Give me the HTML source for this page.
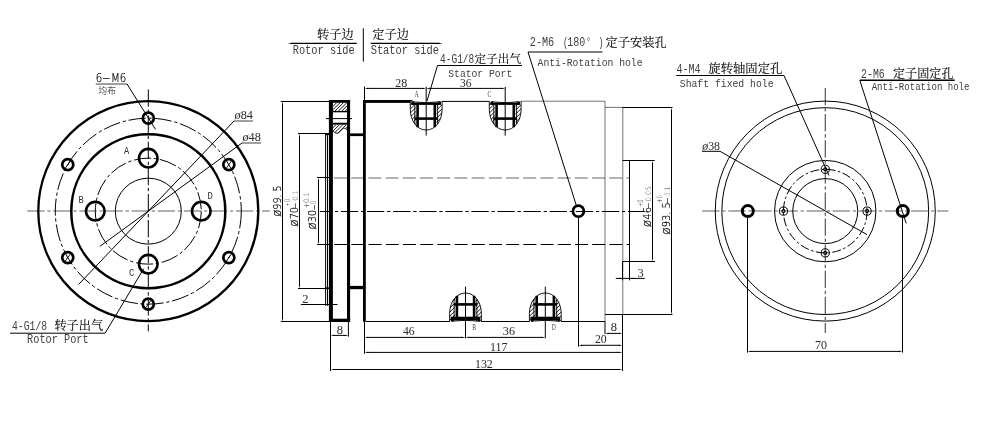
<!DOCTYPE html>
<html><head><meta charset="utf-8"><title>Rotary union drawing</title>
<style>
html,body{margin:0;padding:0;background:#fff;}
svg{display:block}
.t{stroke:#000;stroke-width:1;fill:none}
.g{stroke:#000;stroke-width:1;fill:none;stroke-opacity:.55}
.k{stroke:#000;stroke-width:2.3;fill:none}
.f{fill:#000;stroke:none}
.cl{stroke:#000;stroke-width:1;fill:none;stroke-dasharray:17.3 2.8 3.3 2.7}
.hd{stroke:#000;stroke-width:1;fill:none;stroke-dasharray:13 4.2}
.h{stroke:#000;stroke-width:.9;fill:none}
text{fill:#2a2a2a}
.s{font-family:"Liberation Serif","Noto Serif CJK SC",serif;font-size:12.5px}
.c{font-family:"Liberation Serif","Noto Serif CJK SC",serif;font-size:12px;fill:#000;stroke:#000;stroke-width:.08px}
.m{font-family:"Liberation Mono","Noto Serif CJK SC",monospace;font-size:12.9px;fill:#404040}
.a{font-family:"DejaVu Sans Light","DejaVu Sans","Liberation Sans",sans-serif;font-weight:200;font-size:11.7px;fill:#000;stroke:#000;stroke-width:.22px}
.lb{font-family:"Liberation Mono",monospace;font-size:11.4px;fill:#333}
.ls{font-family:"Liberation Serif",serif;font-size:8px;fill:#444}
.tol{font-family:"DejaVu Sans Light","DejaVu Sans","Liberation Sans",sans-serif;font-weight:200;font-size:7.4px;fill:#1a1a1a}
.tolm{font-family:"DejaVu Sans","Liberation Sans",sans-serif;font-size:7.4px;fill:#000}
.toll{font-family:"DejaVu Sans Light","DejaVu Sans","Liberation Sans",sans-serif;font-weight:200;font-size:7.4px;fill:#444}
.sm{font-family:"Liberation Sans","Noto Sans CJK SC",sans-serif;font-size:9px;fill:#555}
</style></head><body>
<svg width="982" height="445" viewBox="0 0 982 445" style="will-change:transform">
<rect width="982" height="445" fill="#fff"/>

<g id="left-view">
<circle cx="148.30" cy="211.15" r="110.00" class="k" />
<circle cx="148.30" cy="211.15" r="77.00" class="k" style="stroke-width:2.5"/>
<circle cx="148.30" cy="211.15" r="93.00" class="cl" />
<circle cx="148.30" cy="211.15" r="53.00" class="cl" />
<circle cx="148.30" cy="211.15" r="33.00" class="t" />
<circle cx="201.30" cy="211.15" r="9.30" class="k" style="stroke-width:2.6"/>
<circle cx="148.30" cy="158.15" r="9.30" class="k" style="stroke-width:2.6"/>
<circle cx="95.30" cy="211.15" r="9.30" class="k" style="stroke-width:2.6"/>
<circle cx="148.30" cy="264.15" r="9.30" class="k" style="stroke-width:2.6"/>
<circle cx="148.30" cy="118.15" r="5.50" class="k" style="stroke-width:2.7"/>
<circle cx="228.84" cy="164.65" r="5.50" class="k" style="stroke-width:2.7"/>
<line x1="226.34" y1="168.15" x2="231.34" y2="161.15" class="h" />
<circle cx="228.84" cy="257.65" r="5.50" class="k" style="stroke-width:2.7"/>
<line x1="226.34" y1="261.15" x2="231.34" y2="254.15" class="h" />
<circle cx="148.30" cy="304.15" r="5.50" class="k" style="stroke-width:2.7"/>
<line x1="145.80" y1="307.65" x2="150.80" y2="300.65" class="h" />
<circle cx="67.76" cy="257.65" r="5.50" class="k" style="stroke-width:2.7"/>
<line x1="65.26" y1="261.15" x2="70.26" y2="254.15" class="h" />
<circle cx="67.76" cy="164.65" r="5.50" class="k" style="stroke-width:2.7"/>
<line x1="65.26" y1="168.15" x2="70.26" y2="161.15" class="h" />
<line x1="27.20" y1="211.00" x2="269.80" y2="211.00" class="cl" style="stroke-opacity:.62"/>
<line x1="148.30" y1="89.50" x2="148.30" y2="331.30" class="cl" />
<line x1="95.80" y1="84.00" x2="127.00" y2="84.00" class="t" style="stroke-opacity:.75"/>
<line x1="127.00" y1="84.00" x2="155.50" y2="129.40" class="t" />
<text x="95.80" y="82.00" class="a" textLength="30.50" lengthAdjust="spacingAndGlyphs" >6−M6</text>
<text x="98.30" y="93.80" class="sm" textLength="17.70" lengthAdjust="spacingAndGlyphs" >均布</text>
<line x1="234.00" y1="121.00" x2="78.71" y2="284.35" class="t" />
<line x1="234.00" y1="121.00" x2="253.00" y2="121.00" class="t" style="stroke-opacity:.75"/>
<line x1="242.00" y1="143.00" x2="99.78" y2="246.44" class="t" />
<line x1="242.00" y1="143.00" x2="261.00" y2="143.00" class="t" style="stroke-opacity:.75"/>
<text x="234.50" y="119.20" class="s" textLength="18.40" lengthAdjust="spacingAndGlyphs"><tspan font-style="italic">ø</tspan>84</text>
<text x="242.40" y="141.20" class="s" textLength="18.40" lengthAdjust="spacingAndGlyphs"><tspan font-style="italic">ø</tspan>48</text>
<text x="123.90" y="153.80" class="lb" textLength="5.20" lengthAdjust="spacingAndGlyphs" >A</text>
<text x="78.40" y="203.40" class="lb" textLength="5.20" lengthAdjust="spacingAndGlyphs" >B</text>
<text x="207.60" y="198.80" class="lb" textLength="5.30" lengthAdjust="spacingAndGlyphs" >D</text>
<text x="128.90" y="276.20" class="lb" textLength="5.30" lengthAdjust="spacingAndGlyphs" >C</text>
<line x1="10.00" y1="333.20" x2="105.10" y2="333.20" class="t" />
<line x1="105.10" y1="333.20" x2="143.70" y2="268.70" class="t" />
<text x="12.00" y="329.60" class="m" style="font-size:13.6px" textLength="35.10" lengthAdjust="spacingAndGlyphs">4-G1/8</text>
<text x="54.40" y="329.60" class="c" style="font-size:12.2px" textLength="48.90" lengthAdjust="spacingAndGlyphs">转子出气</text>
<text x="27.10" y="343.30" class="m" style="font-size:12.6px" textLength="61.50" lengthAdjust="spacingAndGlyphs">Rotor Port</text>
</g>
<g id="section-view">
<line x1="291.20" y1="43.40" x2="356.80" y2="43.40" class="t" style="stroke-width:1.2"/>
<polygon points="287.80,43.40 291.80,42.70 291.80,44.10" class="f"/>
<line x1="370.70" y1="43.40" x2="439.30" y2="43.40" class="t" style="stroke-width:1.2"/>
<polygon points="442.60,43.40 438.60,44.10 438.60,42.70" class="f"/>
<line x1="363.30" y1="28.30" x2="363.30" y2="61.70" class="t" />
<text x="317.00" y="38.50" class="c" style="font-size:12.2px" textLength="36.70" lengthAdjust="spacingAndGlyphs">转子边</text>
<text x="372.30" y="38.50" class="c" style="font-size:12.2px" textLength="36.70" lengthAdjust="spacingAndGlyphs">定子边</text>
<text x="292.70" y="53.80" class="m" style="font-size:13px" textLength="62.10" lengthAdjust="spacingAndGlyphs">Rotor side</text>
<text x="370.70" y="54.00" class="m" style="font-size:13px" textLength="68.30" lengthAdjust="spacingAndGlyphs">Stator side</text>
<line x1="437.50" y1="65.50" x2="522.00" y2="65.50" class="t" />
<line x1="437.50" y1="65.50" x2="427.00" y2="101.00" class="t" />
<text x="440.00" y="63.00" class="m" style="font-size:12.2px" textLength="34.30" lengthAdjust="spacingAndGlyphs">4-G1/8</text>
<text x="474.60" y="63.20" class="c" style="font-size:11.6px" textLength="46.50" lengthAdjust="spacingAndGlyphs">定子出气</text>
<text x="448.30" y="76.50" class="m" style="font-size:11.5px" textLength="63.90" lengthAdjust="spacingAndGlyphs">Stator Port</text>
<line x1="528.00" y1="52.00" x2="602.50" y2="52.00" class="t" />
<line x1="528.00" y1="52.00" x2="576.80" y2="207.00" class="t" />
<text x="529.80" y="46.40" class="m" style="font-size:12.2px" textLength="24.40" lengthAdjust="spacingAndGlyphs">2-M6</text>
<text x="563.00" y="46.40" class="m" style="font-size:12.2px" textLength="5.00" lengthAdjust="spacingAndGlyphs">(</text>
<text x="567.20" y="46.40" class="m" style="font-size:12.2px" textLength="18.00" lengthAdjust="spacingAndGlyphs">180</text>
<text x="586.30" y="46.40" class="m" style="font-size:12.2px" textLength="4.50" lengthAdjust="spacingAndGlyphs">°</text>
<text x="598.50" y="46.40" class="m" style="font-size:12.2px" textLength="5.00" lengthAdjust="spacingAndGlyphs">)</text>
<text x="605.50" y="46.60" class="c" style="font-size:12.2px" textLength="61.10" lengthAdjust="spacingAndGlyphs">定子安装孔</text>
<text x="537.60" y="65.50" class="m" style="font-size:11.5px" textLength="104.90" lengthAdjust="spacingAndGlyphs">Anti-Rotation hole</text>
<line x1="367.10" y1="88.40" x2="423.60" y2="88.40" class="t" />
<polygon points="364.50,88.40 368.10,87.78 368.10,89.02" class="f"/>
<polygon points="426.20,88.40 422.60,89.02 422.60,87.78" class="f"/>
<line x1="428.80" y1="88.40" x2="502.60" y2="88.40" class="t" />
<polygon points="426.20,88.40 429.80,87.78 429.80,89.02" class="f"/>
<polygon points="505.20,88.40 501.60,89.02 501.60,87.78" class="f"/>
<line x1="364.50" y1="86.50" x2="364.50" y2="100.00" class="t" />
<text x="395.20" y="86.60" class="s" textLength="12.00" lengthAdjust="spacingAndGlyphs" >28</text>
<text x="460.00" y="86.60" class="s" textLength="11.50" lengthAdjust="spacingAndGlyphs" >36</text>
<text x="414.60" y="97.00" class="ls" textLength="4.20" lengthAdjust="spacingAndGlyphs" >A</text>
<text x="487.50" y="97.00" class="ls" textLength="3.80" lengthAdjust="spacingAndGlyphs" >C</text>
<line x1="280.80" y1="101.50" x2="330.00" y2="101.50" class="t" />
<line x1="280.80" y1="321.50" x2="330.00" y2="321.50" class="t" />
<line x1="282.50" y1="104.10" x2="282.50" y2="318.90" class="t" />
<polygon points="282.50,101.50 283.12,105.10 281.88,105.10" class="f"/>
<polygon points="282.50,321.50 281.88,317.90 283.12,317.90" class="f"/>
<text transform="translate(280.90,216.80) rotate(-90)" class="a" style="font-size:10.3px" textLength="31.50" lengthAdjust="spacingAndGlyphs"><tspan style="font-size:12.6px">ø</tspan>99. 5</text>
<line x1="298.00" y1="133.50" x2="330.00" y2="133.50" class="t" />
<line x1="298.00" y1="288.50" x2="326.00" y2="288.50" class="t" />
<line x1="299.50" y1="136.10" x2="299.50" y2="285.90" class="t" />
<polygon points="299.50,133.50 300.12,137.10 298.88,137.10" class="f"/>
<polygon points="299.50,288.50 298.88,284.90 300.12,284.90" class="f"/>
<text transform="translate(297.80,226.70) rotate(-90)" class="a" style="font-size:10.3px" textLength="19.80" lengthAdjust="spacingAndGlyphs"><tspan style="font-size:12.6px">ø</tspan>70</text>
<text transform="translate(290.40,206.40) rotate(-90)" class="tol" textLength="7.60" lengthAdjust="spacingAndGlyphs">+0</text>
<text transform="translate(297.90,208.70) rotate(-90)" class="tolm" textLength="6.20" lengthAdjust="spacingAndGlyphs">−</text>
<text transform="translate(297.70,200.80) rotate(-90)" class="toll" textLength="10.50" lengthAdjust="spacingAndGlyphs">0.1</text>
<line x1="317.00" y1="177.50" x2="330.00" y2="177.50" class="t" />
<line x1="317.00" y1="244.50" x2="330.00" y2="244.50" class="t" />
<line x1="318.50" y1="180.10" x2="318.50" y2="241.90" class="t" />
<polygon points="318.50,177.50 319.12,181.10 317.88,181.10" class="f"/>
<polygon points="318.50,244.50 317.88,240.90 319.12,240.90" class="f"/>
<text transform="translate(316.00,229.40) rotate(-90)" class="a" style="font-size:10.3px" textLength="19.40" lengthAdjust="spacingAndGlyphs"><tspan style="font-size:12.6px">ø</tspan>30</text>
<text transform="translate(308.70,208.50) rotate(-90)" class="tol" textLength="15.80" lengthAdjust="spacingAndGlyphs">+0.1</text>
<text transform="translate(316.50,210.40) rotate(-90)" class="tolm" textLength="6.20" lengthAdjust="spacingAndGlyphs">−</text>
<text transform="translate(316.40,204.30) rotate(-90)" class="toll" textLength="3.70" lengthAdjust="spacingAndGlyphs">0</text>
<line x1="325.60" y1="133.60" x2="325.60" y2="305.80" class="t" />
<line x1="327.50" y1="133.60" x2="327.50" y2="305.80" class="t" />
<line x1="325.20" y1="134.20" x2="329.20" y2="134.20" class="k" style="stroke-width:1.8"/>
<line x1="325.20" y1="288.20" x2="329.20" y2="288.20" class="k" style="stroke-width:1.8"/>
<rect x="328.90" y="100.00" width="4.00" height="222.00" class="f"/>
<rect x="347.00" y="100.00" width="3.10" height="222.00" class="f"/>
<rect x="329.10" y="100.00" width="21.00" height="2.80" class="f"/>
<rect x="329.10" y="318.70" width="21.00" height="3.30" class="f"/>
<clipPath id="h1"><rect x="332.8" y="102.8" width="14.2" height="8.4"/></clipPath><g clip-path="url(#h1)">
<line x1="317.90" y1="111.20" x2="326.30" y2="102.80" class="h" />
<line x1="321.30" y1="111.20" x2="329.70" y2="102.80" class="h" />
<line x1="324.70" y1="111.20" x2="333.10" y2="102.80" class="h" />
<line x1="328.10" y1="111.20" x2="336.50" y2="102.80" class="h" />
<line x1="331.50" y1="111.20" x2="339.90" y2="102.80" class="h" />
<line x1="334.90" y1="111.20" x2="343.30" y2="102.80" class="h" />
<line x1="338.30" y1="111.20" x2="346.70" y2="102.80" class="h" />
<line x1="341.70" y1="111.20" x2="350.10" y2="102.80" class="h" />
<line x1="345.10" y1="111.20" x2="353.50" y2="102.80" class="h" />
<line x1="348.50" y1="111.20" x2="356.90" y2="102.80" class="h" />
<line x1="351.90" y1="111.20" x2="360.30" y2="102.80" class="h" />
<line x1="355.30" y1="111.20" x2="363.70" y2="102.80" class="h" />
</g>
<line x1="332.80" y1="111.60" x2="347.00" y2="111.60" class="t" style="stroke-width:1.4"/>
<line x1="332.80" y1="123.70" x2="347.00" y2="123.70" class="t" style="stroke-width:1.9"/>
<clipPath id="h2"><polygon points="332.8,124.6 347,124.6 347,130.2 345.3,128.2 343.3,128.2 338.3,133.2 336,133.2 333.5,131.6 332.8,130.5"/></clipPath><g clip-path="url(#h2)">
<line x1="317.00" y1="133.50" x2="326.00" y2="124.50" class="h" />
<line x1="320.40" y1="133.50" x2="329.40" y2="124.50" class="h" />
<line x1="323.80" y1="133.50" x2="332.80" y2="124.50" class="h" />
<line x1="327.20" y1="133.50" x2="336.20" y2="124.50" class="h" />
<line x1="330.60" y1="133.50" x2="339.60" y2="124.50" class="h" />
<line x1="334.00" y1="133.50" x2="343.00" y2="124.50" class="h" />
<line x1="337.40" y1="133.50" x2="346.40" y2="124.50" class="h" />
<line x1="340.80" y1="133.50" x2="349.80" y2="124.50" class="h" />
<line x1="344.20" y1="133.50" x2="353.20" y2="124.50" class="h" />
<line x1="347.60" y1="133.50" x2="356.60" y2="124.50" class="h" />
<line x1="351.00" y1="133.50" x2="360.00" y2="124.50" class="h" />
<line x1="354.40" y1="133.50" x2="363.40" y2="124.50" class="h" />
</g>
<polyline points="347,130.2 345.3,128.2 343.3,128.2 338.3,133.2 336,133.2 333.5,131.6 332.8,130.5" class="h"/>
<line x1="326.00" y1="118.60" x2="352.00" y2="118.60" class="t" />
<rect x="350.00" y="133.40" width="13.20" height="2.70" class="f"/>
<rect x="350.00" y="285.90" width="13.20" height="3.30" class="f"/>
<rect x="363.00" y="100.00" width="2.80" height="221.80" class="f"/>
<rect x="363.00" y="100.00" width="49.40" height="2.90" class="f"/>
<line x1="442.00" y1="101.40" x2="489.50" y2="101.40" class="t" />
<line x1="521.00" y1="101.20" x2="605.00" y2="101.20" class="g" />
<line x1="605.00" y1="101.20" x2="605.00" y2="321.20" class="g" />
<line x1="365.80" y1="321.50" x2="450.00" y2="321.50" class="t" />
<line x1="481.00" y1="321.50" x2="529.50" y2="321.50" class="t" />
<line x1="561.00" y1="321.50" x2="605.00" y2="321.50" class="t" />
<line x1="605.00" y1="107.40" x2="622.80" y2="107.40" class="g" />
<line x1="622.80" y1="107.40" x2="622.80" y2="314.50" class="g" />
<line x1="622.50" y1="314.50" x2="622.50" y2="371.00" class="t" />
<line x1="622.50" y1="107.50" x2="672.50" y2="107.50" class="t" />
<line x1="605.00" y1="314.50" x2="672.50" y2="314.50" class="t" />
<line x1="671.50" y1="110.10" x2="671.50" y2="311.90" class="t" />
<polygon points="671.50,107.50 672.12,111.10 670.88,111.10" class="f"/>
<polygon points="671.50,314.50 670.88,310.90 672.12,310.90" class="f"/>
<line x1="622.50" y1="160.50" x2="654.70" y2="160.50" class="t" />
<line x1="622.50" y1="261.50" x2="655.00" y2="261.50" class="t" />
<line x1="629.50" y1="160.50" x2="629.50" y2="280.30" class="t" />
<line x1="652.50" y1="163.10" x2="652.50" y2="258.90" class="t" />
<polygon points="652.50,160.50 653.12,164.10 651.88,164.10" class="f"/>
<polygon points="652.50,261.50 651.88,257.90 653.12,257.90" class="f"/>
<line x1="622.50" y1="261.50" x2="622.50" y2="280.30" class="t" />
<line x1="334.00" y1="178.00" x2="629.00" y2="178.00" class="hd" style="stroke-opacity:.6"/>
<line x1="317.00" y1="244.50" x2="629.00" y2="244.50" class="hd" />
<line x1="320.00" y1="211.50" x2="644.00" y2="211.50" class="cl" style="stroke-dashoffset:5.2"/>
<circle cx="578.40" cy="211.20" r="5.50" class="k" style="stroke-width:2.7"/>
<line x1="578.50" y1="217.00" x2="578.50" y2="346.70" class="t" />
<text transform="translate(651.30,227.20) rotate(-90)" class="a" style="font-size:10.3px" textLength="20.20" lengthAdjust="spacingAndGlyphs"><tspan style="font-size:12.6px">ø</tspan>46</text>
<text transform="translate(643.40,207.00) rotate(-90)" class="tol" textLength="7.40" lengthAdjust="spacingAndGlyphs">+0</text>
<text transform="translate(651.20,209.00) rotate(-90)" class="tolm" textLength="6.60" lengthAdjust="spacingAndGlyphs">−</text>
<text transform="translate(651.20,201.60) rotate(-90)" class="toll" textLength="15.60" lengthAdjust="spacingAndGlyphs">0.05</text>
<text transform="translate(669.80,234.70) rotate(-90)" class="a" style="font-size:10.3px" textLength="32.40" lengthAdjust="spacingAndGlyphs"><tspan style="font-size:12.6px">ø</tspan>93. 5</text>
<text transform="translate(661.60,203.00) rotate(-90)" class="tol" textLength="7.90" lengthAdjust="spacingAndGlyphs">+0</text>
<text transform="translate(669.90,204.10) rotate(-90)" class="tolm" textLength="6.80" lengthAdjust="spacingAndGlyphs">−</text>
<text transform="translate(669.90,196.20) rotate(-90)" class="toll" textLength="9.50" lengthAdjust="spacingAndGlyphs">0.1</text>
<line x1="615.80" y1="278.40" x2="644.70" y2="278.40" class="t" />
<polygon points="622.50,278.40 618.90,279.02 618.90,277.78" class="f"/>
<polygon points="629.60,278.40 633.20,277.78 633.20,279.02" class="f"/>
<text x="637.60" y="277.20" class="s" >3</text>
<path d="M410.30,101.40 L410.30,109.40 C410.30,120.40 416.70,130.00 426.20,130.00 C435.70,130.00 442.10,120.40 442.10,109.40 L442.10,101.40 Z" style="fill:#fff;stroke:none"/>
<clipPath id="pc0"><path d="M410.30,101.40 L410.30,109.40 C410.30,120.40 416.70,130.00 426.20,130.00 C435.70,130.00 442.10,120.40 442.10,109.40 L442.10,101.40 Z"/></clipPath>
<g clip-path="url(#pc0)">
<line x1="409.20" y1="94.20" x2="415.80" y2="87.60" class="h" />
<line x1="409.20" y1="98.20" x2="415.80" y2="91.60" class="h" />
<line x1="409.20" y1="102.20" x2="415.80" y2="95.60" class="h" />
<line x1="409.20" y1="106.20" x2="415.80" y2="99.60" class="h" />
<line x1="409.20" y1="110.20" x2="415.80" y2="103.60" class="h" />
<line x1="409.20" y1="114.20" x2="415.80" y2="107.60" class="h" />
<line x1="409.20" y1="118.20" x2="415.80" y2="111.60" class="h" />
<line x1="409.20" y1="122.20" x2="415.80" y2="115.60" class="h" />
<line x1="409.20" y1="126.20" x2="415.80" y2="119.60" class="h" />
<line x1="409.20" y1="130.20" x2="415.80" y2="123.60" class="h" />
<line x1="409.20" y1="134.20" x2="415.80" y2="127.60" class="h" />
<line x1="436.60" y1="94.20" x2="443.20" y2="87.60" class="h" />
<line x1="436.60" y1="98.20" x2="443.20" y2="91.60" class="h" />
<line x1="436.60" y1="102.20" x2="443.20" y2="95.60" class="h" />
<line x1="436.60" y1="106.20" x2="443.20" y2="99.60" class="h" />
<line x1="436.60" y1="110.20" x2="443.20" y2="103.60" class="h" />
<line x1="436.60" y1="114.20" x2="443.20" y2="107.60" class="h" />
<line x1="436.60" y1="118.20" x2="443.20" y2="111.60" class="h" />
<line x1="436.60" y1="122.20" x2="443.20" y2="115.60" class="h" />
<line x1="436.60" y1="126.20" x2="443.20" y2="119.60" class="h" />
<line x1="436.60" y1="130.20" x2="443.20" y2="123.60" class="h" />
<line x1="436.60" y1="134.20" x2="443.20" y2="127.60" class="h" />
</g>
<path d="M410.30,101.40 L410.30,109.40 C410.30,120.40 416.70,130.00 426.20,130.00 C435.70,130.00 442.10,120.40 442.10,109.40 L442.10,101.40" class="h" style="stroke-width:.9"/>
<path d="M412.20,101.80 Q426.20,103.60 440.20,101.80" class="h"/>
<line x1="414.80" y1="103.40" x2="414.80" y2="123.90" class="h" />
<line x1="437.60" y1="103.40" x2="437.60" y2="123.90" class="h" />
<rect x="411.40" y="102.60" width="29.60" height="2.30" class="f"/>
<rect x="416.30" y="103.40" width="2.60" height="23.80" class="f"/>
<rect x="433.50" y="103.40" width="2.60" height="23.80" class="f"/>
<rect x="414.60" y="117.30" width="23.20" height="2.60" class="f"/>
<rect x="411.60" y="101.60" width="2.40" height="2.80" class="f"/>
<rect x="438.40" y="101.60" width="2.40" height="2.80" class="f"/>
<line x1="426.20" y1="86.80" x2="426.20" y2="135.60" class="t" />
<path d="M489.30,101.40 L489.30,109.40 C489.30,120.40 495.70,130.00 505.20,130.00 C514.70,130.00 521.10,120.40 521.10,109.40 L521.10,101.40 Z" style="fill:#fff;stroke:none"/>
<clipPath id="pc1"><path d="M489.30,101.40 L489.30,109.40 C489.30,120.40 495.70,130.00 505.20,130.00 C514.70,130.00 521.10,120.40 521.10,109.40 L521.10,101.40 Z"/></clipPath>
<g clip-path="url(#pc1)">
<line x1="488.20" y1="94.20" x2="494.80" y2="87.60" class="h" />
<line x1="488.20" y1="98.20" x2="494.80" y2="91.60" class="h" />
<line x1="488.20" y1="102.20" x2="494.80" y2="95.60" class="h" />
<line x1="488.20" y1="106.20" x2="494.80" y2="99.60" class="h" />
<line x1="488.20" y1="110.20" x2="494.80" y2="103.60" class="h" />
<line x1="488.20" y1="114.20" x2="494.80" y2="107.60" class="h" />
<line x1="488.20" y1="118.20" x2="494.80" y2="111.60" class="h" />
<line x1="488.20" y1="122.20" x2="494.80" y2="115.60" class="h" />
<line x1="488.20" y1="126.20" x2="494.80" y2="119.60" class="h" />
<line x1="488.20" y1="130.20" x2="494.80" y2="123.60" class="h" />
<line x1="488.20" y1="134.20" x2="494.80" y2="127.60" class="h" />
<line x1="515.60" y1="94.20" x2="522.20" y2="87.60" class="h" />
<line x1="515.60" y1="98.20" x2="522.20" y2="91.60" class="h" />
<line x1="515.60" y1="102.20" x2="522.20" y2="95.60" class="h" />
<line x1="515.60" y1="106.20" x2="522.20" y2="99.60" class="h" />
<line x1="515.60" y1="110.20" x2="522.20" y2="103.60" class="h" />
<line x1="515.60" y1="114.20" x2="522.20" y2="107.60" class="h" />
<line x1="515.60" y1="118.20" x2="522.20" y2="111.60" class="h" />
<line x1="515.60" y1="122.20" x2="522.20" y2="115.60" class="h" />
<line x1="515.60" y1="126.20" x2="522.20" y2="119.60" class="h" />
<line x1="515.60" y1="130.20" x2="522.20" y2="123.60" class="h" />
<line x1="515.60" y1="134.20" x2="522.20" y2="127.60" class="h" />
</g>
<path d="M489.30,101.40 L489.30,109.40 C489.30,120.40 495.70,130.00 505.20,130.00 C514.70,130.00 521.10,120.40 521.10,109.40 L521.10,101.40" class="h" style="stroke-width:.9"/>
<path d="M491.20,101.80 Q505.20,103.60 519.20,101.80" class="h"/>
<line x1="493.80" y1="103.40" x2="493.80" y2="123.90" class="h" />
<line x1="516.60" y1="103.40" x2="516.60" y2="123.90" class="h" />
<rect x="490.40" y="102.60" width="29.60" height="2.30" class="f"/>
<rect x="495.30" y="103.40" width="2.60" height="23.80" class="f"/>
<rect x="512.50" y="103.40" width="2.60" height="23.80" class="f"/>
<rect x="493.60" y="117.30" width="23.20" height="2.60" class="f"/>
<rect x="490.60" y="101.60" width="2.40" height="2.80" class="f"/>
<rect x="517.40" y="101.60" width="2.40" height="2.80" class="f"/>
<line x1="505.20" y1="86.80" x2="505.20" y2="135.60" class="t" />
<path d="M449.60,321.60 L449.60,313.60 C449.60,302.60 456.00,293.00 465.50,293.00 C475.00,293.00 481.40,302.60 481.40,313.60 L481.40,321.60 Z" style="fill:#fff;stroke:none"/>
<clipPath id="pc2"><path d="M449.60,321.60 L449.60,313.60 C449.60,302.60 456.00,293.00 465.50,293.00 C475.00,293.00 481.40,302.60 481.40,313.60 L481.40,321.60 Z"/></clipPath>
<g clip-path="url(#pc2)">
<line x1="448.50" y1="333.40" x2="455.10" y2="326.80" class="h" />
<line x1="448.50" y1="329.40" x2="455.10" y2="322.80" class="h" />
<line x1="448.50" y1="325.40" x2="455.10" y2="318.80" class="h" />
<line x1="448.50" y1="321.40" x2="455.10" y2="314.80" class="h" />
<line x1="448.50" y1="317.40" x2="455.10" y2="310.80" class="h" />
<line x1="448.50" y1="313.40" x2="455.10" y2="306.80" class="h" />
<line x1="448.50" y1="309.40" x2="455.10" y2="302.80" class="h" />
<line x1="448.50" y1="305.40" x2="455.10" y2="298.80" class="h" />
<line x1="448.50" y1="301.40" x2="455.10" y2="294.80" class="h" />
<line x1="448.50" y1="297.40" x2="455.10" y2="290.80" class="h" />
<line x1="448.50" y1="293.40" x2="455.10" y2="286.80" class="h" />
<line x1="475.90" y1="333.40" x2="482.50" y2="326.80" class="h" />
<line x1="475.90" y1="329.40" x2="482.50" y2="322.80" class="h" />
<line x1="475.90" y1="325.40" x2="482.50" y2="318.80" class="h" />
<line x1="475.90" y1="321.40" x2="482.50" y2="314.80" class="h" />
<line x1="475.90" y1="317.40" x2="482.50" y2="310.80" class="h" />
<line x1="475.90" y1="313.40" x2="482.50" y2="306.80" class="h" />
<line x1="475.90" y1="309.40" x2="482.50" y2="302.80" class="h" />
<line x1="475.90" y1="305.40" x2="482.50" y2="298.80" class="h" />
<line x1="475.90" y1="301.40" x2="482.50" y2="294.80" class="h" />
<line x1="475.90" y1="297.40" x2="482.50" y2="290.80" class="h" />
<line x1="475.90" y1="293.40" x2="482.50" y2="286.80" class="h" />
</g>
<path d="M449.60,321.60 L449.60,313.60 C449.60,302.60 456.00,293.00 465.50,293.00 C475.00,293.00 481.40,302.60 481.40,313.60 L481.40,321.60" class="h" style="stroke-width:.9"/>
<path d="M451.50,321.20 Q465.50,319.40 479.50,321.20" class="h"/>
<line x1="454.10" y1="319.60" x2="454.10" y2="299.10" class="h" />
<line x1="476.90" y1="319.60" x2="476.90" y2="299.10" class="h" />
<rect x="450.70" y="316.70" width="29.60" height="3.70" class="f"/>
<rect x="455.60" y="295.80" width="2.60" height="23.80" class="f"/>
<rect x="472.80" y="295.80" width="2.60" height="23.80" class="f"/>
<rect x="453.90" y="303.10" width="23.20" height="2.60" class="f"/>
<rect x="450.90" y="318.60" width="2.40" height="2.80" class="f"/>
<rect x="477.70" y="318.60" width="2.40" height="2.80" class="f"/>
<line x1="465.50" y1="286.70" x2="465.50" y2="338.30" class="t" />
<path d="M529.40,321.60 L529.40,313.60 C529.40,302.60 535.80,293.00 545.30,293.00 C554.80,293.00 561.20,302.60 561.20,313.60 L561.20,321.60 Z" style="fill:#fff;stroke:none"/>
<clipPath id="pc3"><path d="M529.40,321.60 L529.40,313.60 C529.40,302.60 535.80,293.00 545.30,293.00 C554.80,293.00 561.20,302.60 561.20,313.60 L561.20,321.60 Z"/></clipPath>
<g clip-path="url(#pc3)">
<line x1="528.30" y1="333.40" x2="534.90" y2="326.80" class="h" />
<line x1="528.30" y1="329.40" x2="534.90" y2="322.80" class="h" />
<line x1="528.30" y1="325.40" x2="534.90" y2="318.80" class="h" />
<line x1="528.30" y1="321.40" x2="534.90" y2="314.80" class="h" />
<line x1="528.30" y1="317.40" x2="534.90" y2="310.80" class="h" />
<line x1="528.30" y1="313.40" x2="534.90" y2="306.80" class="h" />
<line x1="528.30" y1="309.40" x2="534.90" y2="302.80" class="h" />
<line x1="528.30" y1="305.40" x2="534.90" y2="298.80" class="h" />
<line x1="528.30" y1="301.40" x2="534.90" y2="294.80" class="h" />
<line x1="528.30" y1="297.40" x2="534.90" y2="290.80" class="h" />
<line x1="528.30" y1="293.40" x2="534.90" y2="286.80" class="h" />
<line x1="555.70" y1="333.40" x2="562.30" y2="326.80" class="h" />
<line x1="555.70" y1="329.40" x2="562.30" y2="322.80" class="h" />
<line x1="555.70" y1="325.40" x2="562.30" y2="318.80" class="h" />
<line x1="555.70" y1="321.40" x2="562.30" y2="314.80" class="h" />
<line x1="555.70" y1="317.40" x2="562.30" y2="310.80" class="h" />
<line x1="555.70" y1="313.40" x2="562.30" y2="306.80" class="h" />
<line x1="555.70" y1="309.40" x2="562.30" y2="302.80" class="h" />
<line x1="555.70" y1="305.40" x2="562.30" y2="298.80" class="h" />
<line x1="555.70" y1="301.40" x2="562.30" y2="294.80" class="h" />
<line x1="555.70" y1="297.40" x2="562.30" y2="290.80" class="h" />
<line x1="555.70" y1="293.40" x2="562.30" y2="286.80" class="h" />
</g>
<path d="M529.40,321.60 L529.40,313.60 C529.40,302.60 535.80,293.00 545.30,293.00 C554.80,293.00 561.20,302.60 561.20,313.60 L561.20,321.60" class="h" style="stroke-width:.9"/>
<path d="M531.30,321.20 Q545.30,319.40 559.30,321.20" class="h"/>
<line x1="533.90" y1="319.60" x2="533.90" y2="299.10" class="h" />
<line x1="556.70" y1="319.60" x2="556.70" y2="299.10" class="h" />
<rect x="530.50" y="316.70" width="29.60" height="3.70" class="f"/>
<rect x="535.40" y="295.80" width="2.60" height="23.80" class="f"/>
<rect x="552.60" y="295.80" width="2.60" height="23.80" class="f"/>
<rect x="533.70" y="303.10" width="23.20" height="2.60" class="f"/>
<rect x="530.70" y="318.60" width="2.40" height="2.80" class="f"/>
<rect x="557.50" y="318.60" width="2.40" height="2.80" class="f"/>
<line x1="545.30" y1="286.70" x2="545.30" y2="338.30" class="t" />
<line x1="300.80" y1="304.50" x2="337.50" y2="304.50" class="t" />
<polygon points="326.30,304.50 322.70,305.12 322.70,303.88" class="f"/>
<polygon points="330.50,304.50 334.10,303.88 334.10,305.12" class="f"/>
<text x="302.30" y="303.00" class="s" >2</text>
<line x1="330.50" y1="322.00" x2="330.50" y2="371.00" class="t" />
<line x1="348.40" y1="322.00" x2="348.40" y2="336.70" class="t" />
<line x1="333.10" y1="335.40" x2="345.80" y2="335.40" class="t" />
<polygon points="330.50,335.40 334.10,334.78 334.10,336.02" class="f"/>
<polygon points="348.40,335.40 344.80,336.02 344.80,334.78" class="f"/>
<text x="336.70" y="333.70" class="s" >8</text>
<line x1="364.50" y1="322.00" x2="364.50" y2="353.70" class="t" />
<line x1="367.10" y1="337.40" x2="462.90" y2="337.40" class="t" />
<polygon points="364.50,337.40 368.10,336.78 368.10,338.02" class="f"/>
<polygon points="465.50,337.40 461.90,338.02 461.90,336.78" class="f"/>
<line x1="468.10" y1="337.40" x2="542.70" y2="337.40" class="t" />
<polygon points="465.50,337.40 469.10,336.78 469.10,338.02" class="f"/>
<polygon points="545.30,337.40 541.70,338.02 541.70,336.78" class="f"/>
<text x="403.00" y="335.30" class="s" textLength="11.70" lengthAdjust="spacingAndGlyphs" >46</text>
<text x="502.80" y="335.30" class="s" textLength="12.20" lengthAdjust="spacingAndGlyphs" >36</text>
<text x="472.20" y="330.40" class="ls" textLength="3.80" lengthAdjust="spacingAndGlyphs" >B</text>
<text x="551.80" y="330.40" class="ls" textLength="4.00" lengthAdjust="spacingAndGlyphs" >D</text>
<line x1="367.10" y1="352.40" x2="619.90" y2="352.40" class="t" />
<polygon points="364.50,352.40 368.10,351.78 368.10,353.02" class="f"/>
<polygon points="622.50,352.40 618.90,353.02 618.90,351.78" class="f"/>
<text x="490.00" y="350.50" class="s" textLength="17.50" lengthAdjust="spacingAndGlyphs" >117</text>
<line x1="333.10" y1="369.50" x2="619.90" y2="369.50" class="t" />
<polygon points="330.50,369.50 334.10,368.88 334.10,370.12" class="f"/>
<polygon points="622.50,369.50 618.90,370.12 618.90,368.88" class="f"/>
<text x="475.00" y="367.50" class="s" textLength="17.80" lengthAdjust="spacingAndGlyphs" >132</text>
<line x1="605.00" y1="321.20" x2="605.00" y2="334.20" class="t" />
<line x1="607.60" y1="333.40" x2="619.90" y2="333.40" class="t" />
<polygon points="605.00,333.40 608.60,332.78 608.60,334.02" class="f"/>
<polygon points="622.50,333.40 618.90,334.02 618.90,332.78" class="f"/>
<text x="610.80" y="331.20" class="s" >8</text>
<line x1="581.10" y1="345.30" x2="619.90" y2="345.30" class="t" />
<polygon points="578.50,345.30 582.10,344.68 582.10,345.92" class="f"/>
<polygon points="622.50,345.30 618.90,345.92 618.90,344.68" class="f"/>
<text x="595.00" y="343.30" class="s" textLength="11.70" lengthAdjust="spacingAndGlyphs" >20</text>
</g>
<g id="right-view">
<circle cx="825.25" cy="211.10" r="110.00" class="t" />
<circle cx="825.25" cy="211.10" r="103.40" class="t" />
<circle cx="825.25" cy="211.10" r="50.70" class="t" />
<circle cx="825.25" cy="211.10" r="41.80" class="cl" style="stroke-dasharray:9 2.5 2.5 2.5"/>
<circle cx="825.25" cy="211.10" r="32.50" class="t" />
<circle cx="867.05" cy="211.10" r="4.10" class="t" />
<circle cx="867.05" cy="211.10" r="1.50" class="t" style="stroke-width:1.2"/>
<circle cx="825.25" cy="169.30" r="4.10" class="t" />
<circle cx="825.25" cy="169.30" r="1.50" class="t" style="stroke-width:1.2"/>
<circle cx="783.45" cy="211.10" r="4.10" class="t" />
<circle cx="783.45" cy="211.10" r="1.50" class="t" style="stroke-width:1.2"/>
<circle cx="825.25" cy="252.90" r="4.10" class="t" />
<circle cx="825.25" cy="252.90" r="1.50" class="t" style="stroke-width:1.2"/>
<circle cx="747.80" cy="211.10" r="5.50" class="k" style="stroke-width:3"/>
<line x1="747.50" y1="217.90" x2="747.50" y2="352.60" class="t" />
<circle cx="902.80" cy="211.10" r="5.50" class="k" style="stroke-width:3"/>
<line x1="902.50" y1="217.90" x2="902.50" y2="352.60" class="t" />
<line x1="702.20" y1="211.00" x2="948.40" y2="211.00" class="cl" style="stroke-opacity:.62"/>
<line x1="825.25" y1="88.00" x2="825.25" y2="333.00" class="cl" style="stroke-opacity:.8"/>
<line x1="750.10" y1="351.40" x2="899.90" y2="351.40" class="t" />
<polygon points="747.50,351.40 751.10,350.78 751.10,352.02" class="f"/>
<polygon points="902.50,351.40 898.90,352.02 898.90,350.78" class="f"/>
<text x="815.00" y="349.30" class="s" textLength="12.00" lengthAdjust="spacingAndGlyphs" >70</text>
<line x1="676.20" y1="75.50" x2="784.00" y2="75.50" class="t" />
<line x1="784.00" y1="75.50" x2="829.00" y2="175.50" class="t" />
<text x="676.50" y="72.60" class="m" style="font-size:12.9px" textLength="24.10" lengthAdjust="spacingAndGlyphs">4-M4</text>
<text x="708.30" y="72.70" class="c" style="font-size:12.3px" textLength="74.10" lengthAdjust="spacingAndGlyphs">旋转轴固定孔</text>
<text x="679.80" y="86.80" class="m" style="font-size:11.3px" textLength="93.70" lengthAdjust="spacingAndGlyphs">Shaft fixed hole</text>
<line x1="859.80" y1="80.30" x2="954.80" y2="80.30" class="t" style="stroke-width:1.4"/>
<line x1="859.80" y1="80.30" x2="906.20" y2="223.40" class="t" />
<text x="861.10" y="77.90" class="m" style="font-size:12.5px" textLength="23.60" lengthAdjust="spacingAndGlyphs">2-M6</text>
<text x="892.90" y="78.20" class="c" style="font-size:12.1px" textLength="60.70" lengthAdjust="spacingAndGlyphs">定子固定孔</text>
<text x="871.70" y="90.30" class="m" style="font-size:11.4px" textLength="97.80" lengthAdjust="spacingAndGlyphs">Anti-Rotation hole</text>
<line x1="702.00" y1="151.30" x2="720.00" y2="151.30" class="t" />
<line x1="720.00" y1="151.30" x2="867.00" y2="234.60" class="t" />
<text x="702.20" y="149.70" class="s" textLength="17.80" lengthAdjust="spacingAndGlyphs"><tspan font-style="italic">ø</tspan>38</text>
</g>
</svg></body></html>
